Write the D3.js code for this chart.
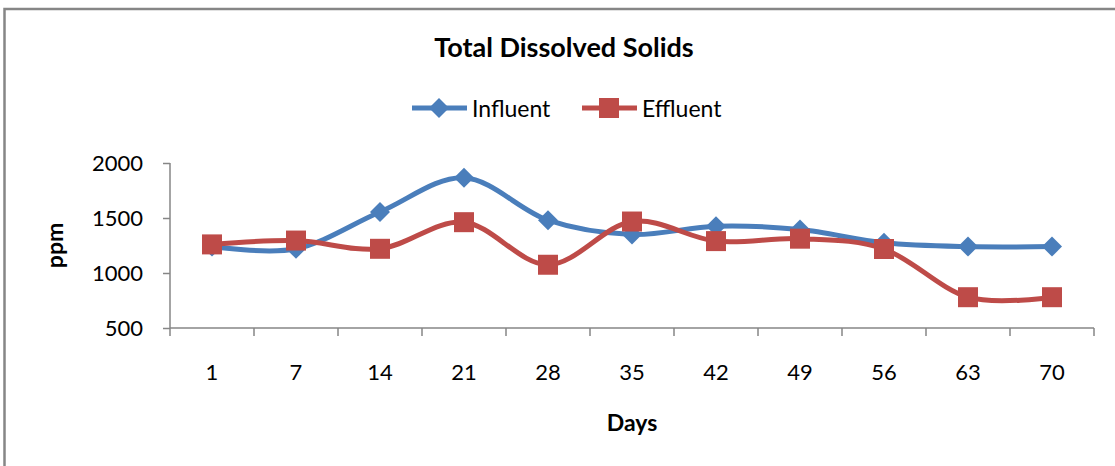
<!DOCTYPE html>
<html>
<head>
<meta charset="utf-8">
<script src="https://cdn.jsdelivr.net/npm/d3@7"></script>
<style>
    body { margin: 0; background: #fff; }
    svg text { font-family: Lato, "Open Sans", sans-serif; fill: #000; }
</style>
</head>
<body>
<script>
//chart data
var days = ["1", "7", "14", "21", "28", "35", "42", "49", "56", "63", "70"];
var influent = [1240, 1220, 1555, 1865, 1480, 1350, 1425, 1395, 1275, 1240, 1240];
var effluent = [1260, 1295, 1220, 1462, 1075, 1468, 1290, 1312, 1218, 780, 780];
var yTicks = [500, 1000, 1500, 2000];

window.onload = drawChart();

function drawChart(){
    var width = 1115,
        height = 466;

    var svg = d3.select("body")
        .append("svg")
        .attr("width", width)
        .attr("height", height);

    //outer chart frame (runs off the right and bottom)
    svg.append("rect")
        .attr("x", 4.5)
        .attr("y", 9)
        .attr("width", 1130)
        .attr("height", 480)
        .attr("fill", "none")
        .attr("stroke", "#868686")
        .attr("stroke-width", 2.5);

    var left = 170, right = 1094, top = 163, bottom = 328;

    var x = d3.scaleBand()
        .domain(days)
        .range([left, right]);

    var y = d3.scaleLinear()
        .domain([500, 2000])
        .range([bottom, top]);

    //y axis
    var yAxis = svg.append("g")
        .attr("transform", "translate(" + left + ",0)")
        .call(d3.axisLeft(y).tickValues(yTicks).tickSize(7).tickPadding(20).tickFormat(d3.format("d")));
    yAxis.select(".domain").attr("stroke", "#868686").attr("stroke-width", 1.5).attr("d", "M0," + top + "V" + bottom);
    yAxis.selectAll(".tick line").attr("stroke", "#868686").attr("stroke-width", 1.5);
    yAxis.selectAll(".tick text").style("font-size", "22px").attr("dy", "0.36em");

    //x axis with ticks between categories
    var xAxis = svg.append("g")
        .attr("transform", "translate(0," + bottom + ")");
    xAxis.append("line")
        .attr("x1", left).attr("x2", right)
        .attr("stroke", "#868686").attr("stroke-width", 1.5);
    var bounds = days.map(function(d){ return x(d); }).concat([right]);
    xAxis.selectAll(".xtick")
        .data(bounds)
        .enter()
        .append("line")
        .attr("class", "xtick")
        .attr("x1", function(d){ return d; })
        .attr("x2", function(d){ return d; })
        .attr("y1", 0)
        .attr("y2", 8)
        .attr("stroke", "#868686")
        .attr("stroke-width", 1.5);
    xAxis.selectAll(".xlabel")
        .data(days)
        .enter()
        .append("text")
        .attr("class", "xlabel")
        .attr("x", function(d){ return x(d) + x.bandwidth() / 2; })
        .attr("y", 52)
        .attr("text-anchor", "middle")
        .style("font-size", "22px")
        .text(function(d){ return d; });

    //titles
    svg.append("text")
        .attr("x", 564).attr("y", 57)
        .attr("text-anchor", "middle")
        .style("font-size", "27px").style("font-weight", "bold")
        .text("Total Dissolved Solids");
    svg.append("text")
        .attr("x", (left + right) / 2).attr("y", 431)
        .attr("text-anchor", "middle")
        .style("font-size", "23px").style("font-weight", "bold")
        .text("Days");
    svg.append("text")
        .attr("transform", "translate(63," + ((top + bottom) / 2) + ") rotate(-90)")
        .attr("text-anchor", "middle")
        .style("font-size", "23px").style("font-weight", "bold")
        .text("ppm");

    //diamonds are squares turned 45 degrees
    var series = [
        {name: "Influent", values: influent, color: "#4A7EBB", size: 200, turn: 45},
        {name: "Effluent", values: effluent, color: "#BE4B48", size: 400, turn: 0}
    ];

    var line = d3.line()
        .x(function(d, i){ return x(days[i]) + x.bandwidth() / 2; })
        .y(function(d){ return y(d); })
        .curve(d3.curveCardinal.tension(0));

    series.forEach(function(s){
        svg.append("path")
            .datum(s.values)
            .attr("d", line)
            .attr("fill", "none")
            .attr("stroke", s.color)
            .attr("stroke-width", 5)
            .attr("stroke-linejoin", "round");
    });

    series.forEach(function(s){
        svg.selectAll(".m" + s.name)
            .data(s.values)
            .enter()
            .append("path")
            .attr("class", "m" + s.name)
            .attr("transform", function(d, i){
                return "translate(" + (x(days[i]) + x.bandwidth() / 2) + "," + y(d) + ") rotate(" + s.turn + ")";
            })
            .attr("d", d3.symbol().type(d3.symbolSquare).size(s.size))
            .attr("fill", s.color);
    });

    //legend
    var legendItems = [
        {s: series[0], x: 412},
        {s: series[1], x: 582}
    ];
    legendItems.forEach(function(l){
        var g = svg.append("g").attr("transform", "translate(" + l.x + ",108)");
        g.append("line")
            .attr("x1", 0).attr("x2", 55)
            .attr("stroke", l.s.color).attr("stroke-width", 5);
        g.append("path")
            .attr("transform", "translate(27,0) rotate(" + l.s.turn + ")")
            .attr("d", d3.symbol().type(d3.symbolSquare).size(l.s.size))
            .attr("fill", l.s.color);
        g.append("text")
            .attr("x", 60).attr("y", 9)
            .style("font-size", "23px")
            .text(l.s.name);
    });
}
</script>
</body>
</html>
